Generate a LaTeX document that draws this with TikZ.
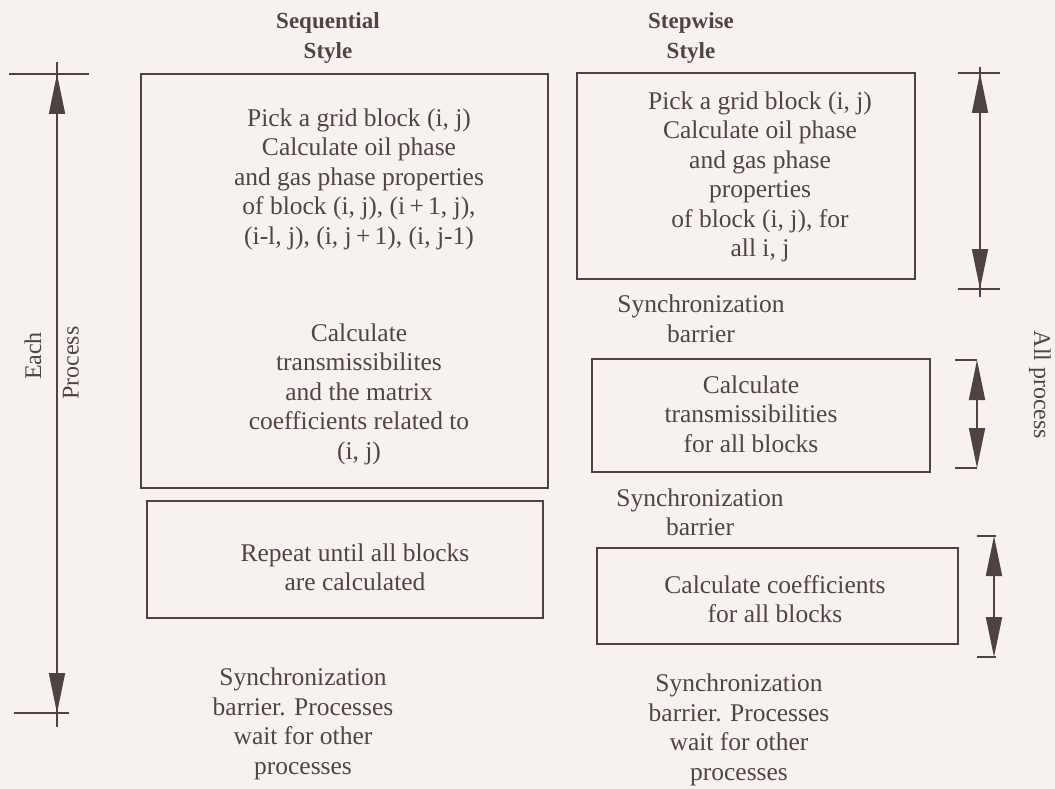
\documentclass[tikz,border=0pt]{standalone}
\usepackage{fontspec}
\setmainfont{Liberation Serif}
\usetikzlibrary{arrows.meta}
\definecolor{paper}{RGB}{248,242,239}
\definecolor{ink}{RGB}{78,66,66}
\definecolor{type}{RGB}{78,69,69}
\tikzset{
  box/.style={draw=ink, line width=2.4pt, inner sep=0pt},
  txt/.style={align=center, text=type, inner sep=0pt, font=\fontsize{25.5}{29.5}\selectfont},
  sidetxt/.style={txt, font=\fontsize{24}{29.5}\selectfont},
  headtxt/.style={txt, font=\fontsize{23}{29.5}\selectfont\bfseries},
  dimline/.style={draw=ink, line width=1.8pt},
  dimtick/.style={draw=ink, line width=2.4pt},
  dimarrow/.style={dimline, {Triangle[length=40pt,width=16pt]}-{Triangle[length=40pt,width=16pt]}},
}
\begin{document}
\begin{tikzpicture}[x=1pt,y=-1pt]
	\fill[paper] (0,0) rectangle (1055,789);
	\useasboundingbox (0,0) rectangle (1055,789);

	% sequential style
	\node[headtxt] (seqHead) at (328,38) {Sequential\\Style};
	\node[box, minimum width=407pt, minimum height=414pt] (seqCalc) at (344.5,281) {};
	\node[txt] (seqPick) at (359,179) {Pick a grid block (i, j)\\Calculate oil phase\\and gas phase properties\\of block (i, j), (i\,+\,1, j),\\(i-l, j), (i, j\,+\,1), (i, j-1)};
	\node[txt] (seqTrans) at (359,394) {Calculate\\transmissibilites\\and the matrix\\coefficients related to\\(i, j)};
	\node[box, minimum width=396pt, minimum height=117pt] (seqRepeat) at (345,559.5) {};
	\node[txt] (seqRepeatTxt) at (355,567.5) {Repeat until all blocks\\are calculated};
	\node[txt] (seqSync) at (303,724) {Synchronization\\barrier. Processes\\wait for other\\processes};

	% stepwise style
	\node[headtxt] (stepHead) at (691,38) {Stepwise\\Style};
	\node[box, minimum width=338pt, minimum height=206pt] (stepPick) at (746,176) {};
	\node[txt] (stepPickTxt) at (760,177) {Pick a grid block (i, j)\\Calculate oil phase\\and gas phase\\properties\\of block (i, j), for\\all i, j};
	\node[txt] (stepSyncA) at (701,319) {Synchronization\\barrier};
	\node[box, minimum width=338pt, minimum height=113pt] (stepTrans) at (761,415.5) {};
	\node[txt] (stepTransTxt) at (751,414) {Calculate\\transmissibilities\\for all blocks};
	\node[txt] (stepSyncB) at (700,512.5) {Synchronization\\barrier};
	\node[box, minimum width=361pt, minimum height=96pt] (stepCoef) at (777.5,596) {};
	\node[txt] (stepCoefTxt) at (775,599) {Calculate coefficients\\for all blocks};
	\node[txt] (stepSyncC) at (739,730) {Synchronization\\barrier. Processes\\wait for other\\processes};

	% each process
	\coordinate (eachTop) at (57,74);
	\coordinate (eachBot) at (57,713);
	\draw[dimline] (57,62) -- (57,727);
	\draw[dimarrow] (eachBot) -- (eachTop);
	\draw[dimtick] (9,74) -- (89,74) (14,713) -- (69,713);
	\node[sidetxt, rotate=90] (eachLbl) at (33,356) {Each};
	\node[sidetxt, rotate=90] (procLbl) at (71,363) {Process};

	% all process
	\coordinate (allTopA) at (980,73);
	\coordinate (allBotA) at (980,289);
	\draw[dimline] (980,67) -- (980,297);
	\draw[dimarrow] (allBotA) -- (allTopA);
	\draw[dimtick] (958,73) -- (1000,73) (958,289) -- (1000,289);

	\coordinate (allTopB) at (977,360);
	\coordinate (allBotB) at (977,468);
	\draw[dimarrow] (allBotB) -- (allTopB);
	\draw[dimtick] (955,360) -- (977,360) (955,468) -- (977,468);

	\coordinate (allTopC) at (994,536);
	\coordinate (allBotC) at (994,657);
	\draw[dimarrow] (allBotC) -- (allTopC);
	\draw[dimtick] (977,536) -- (996,536) (977,657) -- (996,657);

	\node[sidetxt, rotate=-90] (allLbl) at (1040,385) {All process};
\end{tikzpicture}
\end{document}
